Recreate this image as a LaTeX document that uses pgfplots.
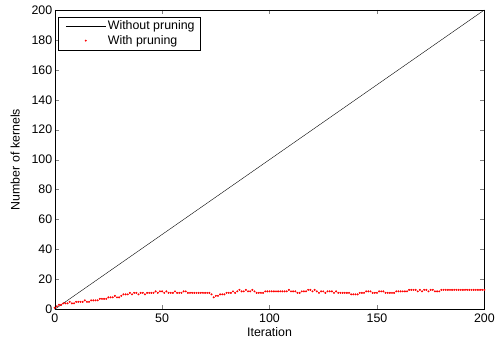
\documentclass[border=0pt]{standalone}
\usepackage{pgfplots}
\pgfplotsset{compat=1.18}
\usepackage{fontspec}
\setmainfont{Liberation Sans}
\pgfplotsset{
  linelegend/.style={legend image code/.code={\draw[##1] (4bp,0bp) -- (44bp,0bp);}},
  dotlegend/.style={legend image code/.code={\path[draw=none] (0bp,0bp) -- (44bp,0bp); \draw[##1, only marks] plot coordinates {(24bp,0bp)};}},
}
\begin{document}
\begin{tikzpicture}
\begin{axis}[
  scale only axis,
  width=432bp, height=301bp,
  xmin=0, xmax=200, ymin=0, ymax=200,
  xtick={0,50,...,200}, ytick={0,20,...,200},
  tick align=inside,
  major tick length=4bp,
  /pgf/number format/assume math mode=true,
  tick label style={font=\fontsize{12.5}{14}\selectfont},
  xticklabel style={yshift=-1bp},
  yticklabel style={xshift=1bp},
  label style={font=\fontsize{12.5}{14}\selectfont},
  xlabel={Iteration}, ylabel={Number of kernels},
  xlabel style={yshift=2bp},
  ylabel style={yshift=5bp},
  legend style={at={(0.007,0.977)}, anchor=north west, font=\fontsize{12.5}{14}\selectfont, draw=black, inner xsep=4bp, inner ysep=2bp, row sep=0bp, cells={anchor=west}},
  legend cell align=left,
  axis line style={black},
]
\addplot[black, thin, linelegend] coordinates {(0,0) (200,200)};
\addlegendentry{Without pruning}
\addplot[only marks, red, mark=*, mark size=0.8bp, dotlegend] table {
x y
0 1
1 2
2 3
3 3
4 4
5 4
6 4
7 5
8 4
9 4
10 5
11 5
12 5
13 5
14 6
15 5
16 5
17 6
18 6
19 6
20 6
21 7
22 7
23 7
24 7
25 8
26 8
27 8
28 9
29 8
30 8
31 9
32 10
33 10
34 10
35 11
36 10
37 11
38 11
39 10
40 11
41 11
42 10
43 11
44 11
45 11
46 11
47 12
48 11
49 12
50 12
51 11
52 12
53 11
54 11
55 11
56 12
57 11
58 11
59 11
60 12
61 12
62 11
63 11
64 11
65 11
66 11
67 11
68 11
69 11
70 11
71 11
72 11
73 10
74 8
75 9
76 9
77 10
78 10
79 10
80 11
81 11
82 11
83 12
84 11
85 12
86 13
87 12
88 12
89 13
90 12
91 12
92 13
93 12
94 11
95 11
96 11
97 11
98 12
99 12
100 12
101 12
102 12
103 12
104 12
105 12
106 12
107 12
108 12
109 13
110 12
111 12
112 12
113 11
114 11
115 12
116 12
117 12
118 13
119 13
120 12
121 13
122 12
123 11
124 12
125 12
126 11
127 12
128 12
129 12
130 11
131 12
132 11
133 11
134 11
135 11
136 11
137 11
138 10
139 10
140 10
141 10
142 11
143 11
144 11
145 12
146 12
147 12
148 11
149 11
150 11
151 12
152 12
153 12
154 11
155 11
156 11
157 11
158 11
159 12
160 12
161 12
162 12
163 12
164 12
165 13
166 13
167 13
168 13
169 12
170 13
171 12
172 13
173 13
174 12
175 13
176 13
177 12
178 12
179 12
180 13
181 13
182 13
183 13
184 13
185 13
186 13
187 13
188 13
189 13
190 13
191 13
192 13
193 13
194 13
195 13
196 13
197 13
198 13
199 13
200 13
};
\addlegendentry{With pruning}
\end{axis}
\path ([xshift=-55bp,yshift=-28bp]current axis.south west) rectangle ([xshift=11bp,yshift=10bp]current axis.north east);
\end{tikzpicture}
\end{document}
